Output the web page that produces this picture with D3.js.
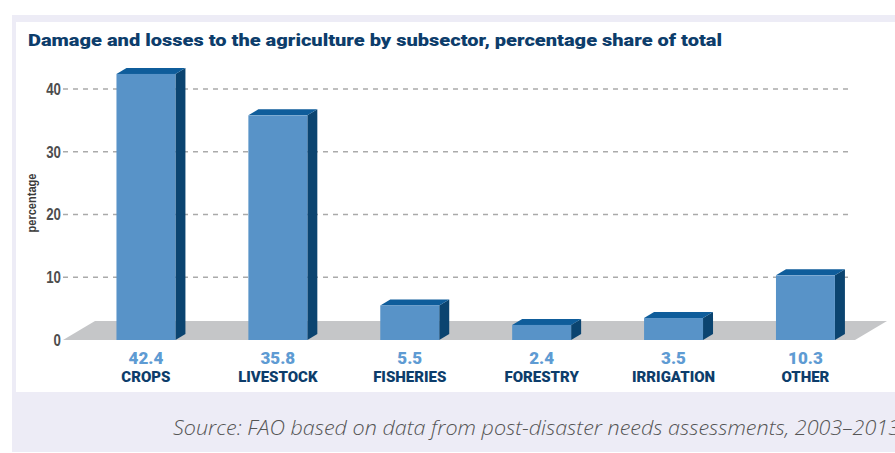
<!DOCTYPE html>
<html>
<head>
<meta charset="utf-8">
<script src="https://cdn.jsdelivr.net/npm/d3@7"></script>
<style>
  body { margin: 0; background: #fff; }
  svg { display: block; }
</style>
</head>
<body>
<svg width="895" height="453"></svg>
<script>
const categories = ["CROPS", "LIVESTOCK", "FISHERIES", "FORESTRY", "IRRIGATION", "OTHER"];
const values = [42.4, 35.8, 5.5, 2.4, 3.5, 10.3];
const valueLabels = ["42.4", "35.8", "5.5", "2.4", "3.5", "10.3"];
const yTicks = [0, 10, 20, 30, 40];

const svg = d3.select("svg");

// frame: lavender border + white panel + lavender footer
svg.append("rect").attr("x", 12).attr("y", 15).attr("width", 883).attr("height", 437).attr("fill", "#edecf6");
svg.append("rect").attr("x", 16).attr("y", 22).attr("width", 879).attr("height", 370).attr("fill", "#fff");

svg.append("text")
  .attr("x", 28).attr("y", 46)
  .attr("font-family", "Roboto, sans-serif")
  .attr("font-weight", 900)
  .attr("font-size", 17)
  .attr("fill", "#0d3d6b")
  .attr("textLength", 694)
  .attr("lengthAdjust", "spacingAndGlyphs")
  .text("Damage and losses to the agriculture by subsector, percentage share of total");

const y = d3.scaleLinear().domain([0, 40]).range([340, 89]);
const x = d3.scaleBand().domain(categories).range([80, 871.4]).paddingInner(0.553).paddingOuter(0.2765);
const dx = 10, dy = 6;

// floor
const y0 = y(0);
svg.append("polygon")
  .attr("points", [[63, y0], [95, y0 - 19], [887, y0 - 19], [855, y0]].join(" "))
  .attr("fill", "#c5c6c8");

// gridlines
svg.append("g").selectAll("line")
  .data(yTicks.filter(d => d > 0)).enter()
  .append("line")
  .attr("x1", 63).attr("x2", 848)
  .attr("y1", d => y(d)).attr("y2", d => y(d))
  .attr("stroke", "#aaaaaa")
  .attr("stroke-width", 1.3)
  .attr("stroke-dasharray", "5,5");

// y axis (condensed digits)
const axis = svg.append("g")
  .attr("transform", "translate(61,0)")
  .call(d3.axisLeft(y).tickValues(yTicks).tickSize(0).tickPadding(0));
axis.select(".domain").remove();
axis.selectAll("text")
  .attr("transform", "scale(0.78,1)")
  .attr("font-family", "'Liberation Sans', sans-serif")
  .attr("font-weight", "bold")
  .attr("font-size", 17)
  .attr("fill", "#4d4d4d");

svg.append("text")
  .attr("transform", "translate(36,203) rotate(-90) scale(0.85,1)")
  .attr("text-anchor", "middle")
  .attr("font-family", "'Liberation Sans', sans-serif")
  .attr("font-weight", "bold")
  .attr("font-size", 13)
  .attr("fill", "#3a3a3a")
  .text("percentage");

// 3D bars
const bars = svg.append("g").selectAll("g")
  .data(values).enter().append("g");

bars.append("polygon")
  .attr("points", (d, i) => {
    const x1 = x(categories[i]) + x.bandwidth(), yt = y(d);
    return [[x1, yt], [x1 + dx, yt - dy], [x1 + dx, y0 - dy], [x1, y0]].join(" ");
  })
  .attr("fill", "#0b4470");

bars.append("polygon")
  .attr("points", (d, i) => {
    const x0 = x(categories[i]), x1 = x0 + x.bandwidth(), yt = y(d);
    return [[x0, yt], [x0 + dx, yt - dy], [x1 + dx, yt - dy], [x1, yt]].join(" ");
  })
  .attr("fill", "#0f5d9b");

bars.append("rect")
  .attr("x", (d, i) => x(categories[i]))
  .attr("y", d => y(d))
  .attr("width", x.bandwidth())
  .attr("height", d => y0 - y(d))
  .attr("fill", "#5893c8");

// labels
svg.append("g").selectAll("text")
  .data(valueLabels).enter()
  .append("text")
  .attr("x", (d, i) => x(categories[i]) + x.bandwidth() / 2)
  .attr("y", 364)
  .attr("text-anchor", "middle")
  .attr("font-family", "Roboto, sans-serif")
  .attr("font-weight", 900)
  .attr("font-size", 17)
  .attr("fill", "#5e9bd3")
  .text(d => d);

svg.append("g").selectAll("text")
  .data(categories).enter()
  .append("text")
  .attr("x", d => x(d) + x.bandwidth() / 2)
  .attr("y", 382)
  .attr("text-anchor", "middle")
  .attr("font-family", "Roboto, sans-serif")
  .attr("font-weight", 900)
  .attr("font-size", 15)
  .attr("fill", "#0d3d6b")
  .text(d => d);

svg.append("text")
  .attr("x", 173).attr("y", 435)
  .attr("font-family", "'Open Sans', 'Liberation Sans', sans-serif")
  .attr("font-style", "italic")
  .attr("font-weight", 300)
  .attr("font-size", 21)
  .attr("fill", "#555")
  .attr("textLength", 727)
  .attr("lengthAdjust", "spacingAndGlyphs")
  .text("Source: FAO based on data from post-disaster needs assessments, 2003–2013");
</script>
</body>
</html>
